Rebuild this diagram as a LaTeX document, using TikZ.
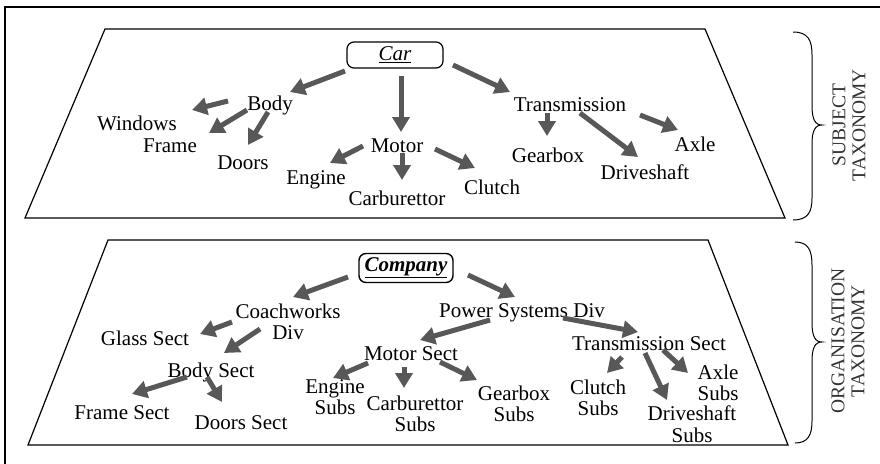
\documentclass[tikz,border=0pt]{standalone}
\usepackage{fontspec}
\setmainfont{Liberation Serif}
\usetikzlibrary{arrows.meta,calc}
\definecolor{arrgray}{HTML}{585858}
\begin{document}
\begin{tikzpicture}[x=1pt,y=-1pt,
  lbl/.style={inner sep=0pt,font=\fontsize{21}{21.5}\selectfont,align=center},
  rootbox/.style={draw,line width=1.2pt,rounded corners=7pt,inner sep=0pt,font=\fontsize{21}{22}\selectfont},
  arr/.style={draw=arrgray,line width=5pt,-{Triangle[length=15pt,width=17pt,fill=arrgray]}},
  frame/.style={draw,line width=1.2pt},
  side/.style={font=\fontsize{19.5}{20}\selectfont,align=center,inner sep=0pt,rotate=90,text=black!80}
]
\useasboundingbox (0,0) rectangle (880,463);
% outer frame
\draw[line width=1.5pt] (5,470) -- (5,7) -- (885,7);
% trapezoids
\draw[frame] (105,29) -- (705,29) -- (785,218) -- (25,218) -- cycle;
\draw[frame] (108,240) -- (708,240) -- (788,445) -- (28,445) -- cycle;
% braces
\draw[line width=1pt] (793,32) .. controls (808,32) and (812,40) .. (812,55) -- (812,106)
  .. controls (812,119) and (815,125) .. (822,125) .. controls (815,125) and (812,131) .. (812,144)
  -- (812,198) .. controls (812,212) and (808,220) .. (793,220);
\draw[line width=1pt] (795,242) .. controls (808,242) and (812,250) .. (812,265) -- (812,323)
  .. controls (812,336) and (815,342) .. (822,342) .. controls (815,342) and (812,348) .. (812,361)
  -- (812,421) .. controls (812,435) and (808,443) .. (795,443);
\node[side] (subj) at (849,125) {SUBJECT\\TAXONOMY};
\node[side] (org) at (848,341) {ORGANISATION\\TAXONOMY};

% ---------- Subject taxonomy ----------
\node[rootbox,minimum width=96pt,minimum height=26pt] (car) at (395,55) {\itshape\underline{Car}};
\node[lbl] (body) at (270,105) {Body};
\node[lbl] (windows) at (137,123) {Windows};
\node[lbl] (frm) at (170,146) {Frame};
\node[lbl] (doors) at (243,163) {Doors};
\node[lbl] (motor) at (397,146) {Motor};
\node[lbl] (engine) at (316,180) {Engine};
\node[lbl] (carb) at (397,198) {Carburettor};
\node[lbl] (clutch) at (492,187) {Clutch};
\node[lbl] (trans) at (570,105) {Transmission};
\node[lbl] (gearbox) at (548,155) {Gearbox};
\node[lbl] (drive) at (645,172) {Driveshaft};
\node[lbl] (axle) at (695,144) {Axle};

\draw[arr] ($(car)+(-50,16)$) -- ($(body)+(20,-13)$);
\draw[arr] ($(car)+(6,21)$) -- ($(motor)+(4,-14)$);
\draw[arr] ($(car)+(58,10)$) -- ($(trans)+(-60,-13)$);
\draw[arr] ($(body)+(-42,-4)$) -- ($(windows)+(55,-13)$);
\draw[arr] ($(body)+(-23,5)$) -- ($(frm)+(39,-13)$);
\draw[arr] ($(body)+(-2,7)$) -- ($(doors)+(5,-18)$);
\draw[arr] ($(motor)+(-34,0)$) -- ($(engine)+(14,-17)$);
\draw[arr] ($(motor)+(5,7)$) -- ($(carb)+(5,-18)$);
\draw[arr] ($(motor)+(38,3)$) -- ($(clutch)+(-17,-19)$);
\draw[arr] ($(trans)+(-23,8)$) -- ($(gearbox)+(-1,-19)$);
\draw[arr] ($(trans)+(10,8)$) -- ($(drive)+(-7,-15)$);
\draw[arr] ($(trans)+(70,10)$) -- ($(axle)+(-17,-14)$);

% ---------- Organisation taxonomy ----------
\node[rootbox,line width=1.4pt,minimum width=94pt,minimum height=29pt] (company) at (406,268) {\bfseries\itshape\underline{Company}};
\node[lbl] (coach) at (288,322) {Coachworks\\Div};
\node[lbl] (glass) at (145,338) {Glass Sect};
\node[lbl] (bodys) at (211,372) {Body Sect};
\node[lbl] (frames) at (122,413) {Frame Sect};
\node[lbl] (doorss) at (241,423) {Doors Sect};
\node[lbl] (power) at (522,313) {Power Systems Div};
\node[lbl] (motors) at (411,354) {Motor Sect};
\node[lbl] (engs) at (335,397) {Engine\\Subs};
\node[lbl] (carbs) at (415,414) {Carburettor\\Subs};
\node[lbl] (gears) at (514,404) {Gearbox\\Subs};
\node[lbl] (transs) at (649,344) {Transmission Sect};
\node[lbl] (clutchs) at (598,398) {Clutch\\Subs};
\node[lbl] (drives) at (692,424) {Driveshaft\\Subs};
\node[lbl] (axles) at (718,383) {Axle\\Subs};

\draw[arr] ($(company)+(-58,9)$) -- ($(coach)+(5,-25)$);
\draw[arr] ($(company)+(62,7)$) -- ($(power)+(-7,-16)$);
\draw[arr] ($(coach)+(-56,0)$) -- ($(glass)+(55,-4)$);
\draw[arr] ($(coach)+(-28,7)$) -- ($(bodys)+(13,-19)$);
\draw[arr] ($(bodys)+(-24,5)$) -- ($(frames)+(10,-19)$);
\draw[arr] ($(bodys)+(-4,5)$) -- ($(doorss)+(-19,-21)$);
\draw[arr] ($(power)+(-32,7)$) -- ($(motors)+(9,-14)$);
\draw[arr] ($(power)+(41,5)$) -- ($(transs)+(-11,-12)$);
\draw[arr] ($(motors)+(-43,9)$) -- ($(engs)+(-2,-19)$);
\draw[arr] ($(motors)+(-7,13)$) -- ($(carbs)+(-11,-26)$);
\draw[arr] ($(motors)+(29,8)$) -- ($(gears)+(-37,-24)$);
\draw[arr] ($(transs)+(-27,13)$) -- ($(clutchs)+(9,-25)$);
\draw[arr] ($(transs)+(-4,9)$) -- ($(drives)+(-25,-24)$);
\draw[arr] ($(transs)+(14,6)$) -- ($(axles)+(-30,-10)$);
\end{tikzpicture}
\end{document}
